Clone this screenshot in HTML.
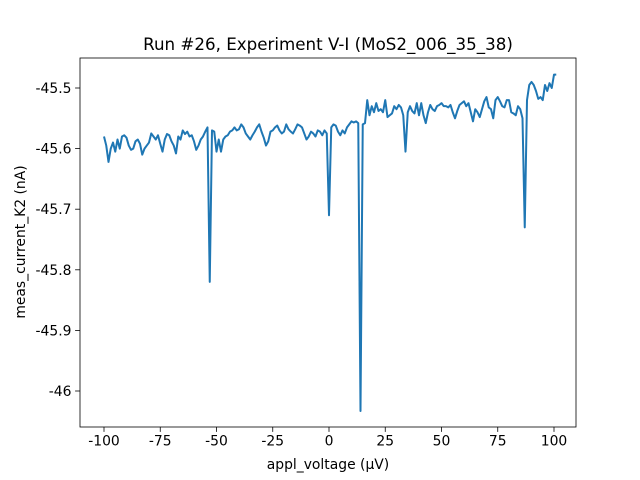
<!DOCTYPE html>
<html><head><meta charset="utf-8"><style>
body{margin:0;background:#fff}
svg{display:block}
text{font-family:"DejaVu Sans","Liberation Sans",sans-serif;fill:#000}
</style></head><body>
<svg id="chart" width="640" height="480" viewBox="0 0 640 480">
<rect width="640" height="480" fill="#fff"/>
<text x="328" y="50" font-size="16.7" text-anchor="middle">Run #26, Experiment V-I (MoS2_006_35_38)</text>
<text x="328" y="469" font-size="13.9" text-anchor="middle">appl_voltage (µV)</text>
<text transform="translate(25,242) rotate(-90)" font-size="13.9" text-anchor="middle">meas_current_K2 (nA)</text>
<g id="xticks"></g>
<g id="yticks"></g>
<path id="line" fill="none" stroke="#1f77b4" stroke-width="2" stroke-linejoin="round"/>
<rect x="80" y="58" width="496" height="369" fill="none" stroke="#000" stroke-width="0.8"/>
</svg>
<script>
const xTickValues=[-100,-75,-50,-25,0,25,50,75,100];
const xTickLabels=["-100","-75","-50","-25","0","25","50","75","100"];
const yTickValues=[-45.5,-45.6,-45.7,-45.8,-45.9,-46];
const yTickLabels=["-45.5","-45.6","-45.7","-45.8","-45.9","-46"];
const voltageStart=-100;
const current=[
-45.580,-45.595,-45.622,-45.600,-45.590,-45.605,-45.585,-45.600,-45.580,-45.578,-45.582,
-45.595,-45.602,-45.600,-45.588,-45.585,-45.592,-45.610,-45.600,-45.595,-45.590,
-45.575,-45.580,-45.585,-45.578,-45.592,-45.605,-45.585,-45.576,-45.578,-45.588,
-45.595,-45.608,-45.580,-45.585,-45.570,-45.576,-45.572,-45.580,-45.578,-45.588,
-45.602,-45.595,-45.585,-45.580,-45.572,-45.565,-45.820,-45.570,-45.572,-45.605,
-45.585,-45.605,-45.585,-45.580,-45.578,-45.572,-45.570,-45.565,-45.570,-45.568,
-45.560,-45.565,-45.575,-45.580,-45.585,-45.578,-45.572,-45.565,-45.560,-45.572,
-45.582,-45.595,-45.588,-45.572,-45.570,-45.565,-45.562,-45.570,-45.575,-45.572,
-45.560,-45.568,-45.572,-45.575,-45.568,-45.560,-45.562,-45.565,-45.575,-45.585,
-45.580,-45.572,-45.575,-45.580,-45.570,-45.572,-45.578,-45.570,-45.575,-45.710,
-45.565,-45.560,-45.562,-45.572,-45.578,-45.570,-45.575,-45.565,-45.560,-45.555,
-45.557,-45.555,-45.558,-46.033,-45.560,-45.558,-45.520,-45.545,-45.530,-45.540,
-45.525,-45.538,-45.535,-45.540,-45.520,-45.548,-45.545,-45.542,-45.530,-45.535,
-45.528,-45.532,-45.545,-45.605,-45.540,-45.530,-45.538,-45.542,-45.525,-45.545,
-45.525,-45.545,-45.558,-45.540,-45.528,-45.535,-45.538,-45.530,-45.528,-45.525,
-45.530,-45.530,-45.532,-45.528,-45.540,-45.550,-45.538,-45.528,-45.525,-45.522,
-45.530,-45.525,-45.540,-45.555,-45.535,-45.540,-45.548,-45.535,-45.522,-45.515,
-45.532,-45.535,-45.550,-45.520,-45.515,-45.522,-45.530,-45.532,-45.520,-45.520,
-45.540,-45.542,-45.545,-45.530,-45.535,-45.550,-45.730,-45.520,-45.495,-45.490,
-45.495,-45.505,-45.518,-45.515,-45.520,-45.495,-45.505,-45.492,-45.500,-45.478,-45.478
];
const X0=80,X1=576,Y0=58,Y1=427;
function sx(v){return 104+(v+100)*2.25;}
function sy(v){return 88+(-45.5-v)*606;}
const NS="http://www.w3.org/2000/svg";
const xg=document.getElementById('xticks'),yg=document.getElementById('yticks');
xTickValues.forEach((v,i)=>{
 const x=sx(v);
 const l=document.createElementNS(NS,'line');
 l.setAttribute('x1',x);l.setAttribute('x2',x);l.setAttribute('y1',Y1);l.setAttribute('y2',Y1+4.9);
 l.setAttribute('stroke','#000');l.setAttribute('stroke-width','0.8');
 
 
 xg.appendChild(l);
 const t=document.createElementNS(NS,'text');
 t.setAttribute('x',x);t.setAttribute('y',Y1+18.5);t.setAttribute('font-size','13.9');t.setAttribute('text-anchor','middle');
 t.textContent=xTickLabels[i];
 
 
 xg.appendChild(t);
});
yTickValues.forEach((v,i)=>{
 const y=sy(v);
 const l=document.createElementNS(NS,'line');
 l.setAttribute('x1',X0-4.9);l.setAttribute('x2',X0);l.setAttribute('y1',y);l.setAttribute('y2',y);
 l.setAttribute('stroke','#000');l.setAttribute('stroke-width','0.8');
 
 
 yg.appendChild(l);
 const t=document.createElementNS(NS,'text');
 t.setAttribute('x',X0-8.5);t.setAttribute('y',y+5);t.setAttribute('font-size','13.9');t.setAttribute('text-anchor','end');
 t.textContent=yTickLabels[i];
 
 
 yg.appendChild(t);
});
let d='';
current.forEach((v,i)=>{d+=(i?'L':'M')+sx(voltageStart+i).toFixed(2)+','+sy(v).toFixed(2);});
document.getElementById('line').setAttribute('d',d);
</script>
</body></html>
